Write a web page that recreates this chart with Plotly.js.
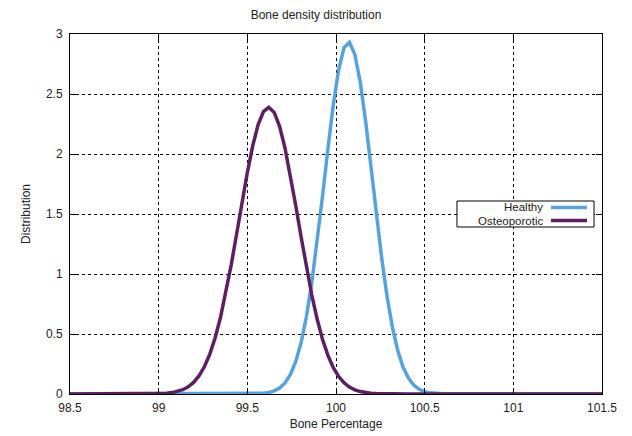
<!DOCTYPE html>
<html>
<head>
<meta charset="utf-8">
<script src="https://cdn.plot.ly/plotly-3.0.1.min.js"></script>
<style>html,body{margin:0;padding:0;background:#fff;}#chart{width:632px;height:436px;}</style>
</head>
<body>
<div id="chart"></div>
<script>
// Sample positions (Bone Percentage)
var bonePct = [98.5,
  98.9242, 98.9545, 98.9848, 99.0152, 99.0455, 99.0758, 99.1061, 99.1364, 99.1667, 99.1970,
  99.2273, 99.2576, 99.2879, 99.3182, 99.3485, 99.3788, 99.4091, 99.4394, 99.4697, 99.5000,
  99.5303, 99.5606, 99.5909, 99.6212, 99.6515, 99.6818, 99.7121, 99.7424, 99.7727, 99.8030,
  99.8333, 99.8636, 99.8939, 99.9242, 99.9545, 99.9848, 100.0152, 100.0455, 100.0758, 100.1061,
  100.1364, 100.1667, 100.1970, 100.2273, 100.2576, 100.2879, 100.3182, 100.3485, 100.3788, 100.4091,
  100.4394, 100.4697, 100.5000, 100.5303, 100.5606, 100.5909, 100.6212,
  101.5];

var healthy = [0,
  0, 0, 0, 0, 0, 0, 0, 0, 0, 0,
  0, 0, 0, 0, 0, 0, 0, 0, 0, 0,
  0.0011, 0.0026, 0.0059, 0.0127, 0.0258, 0.0499, 0.0920, 0.1612, 0.2689, 0.4269,
  0.6450, 0.9272, 1.2684, 1.6509, 2.0449, 2.4104, 2.7043, 2.8858, 2.9303, 2.8315,
  2.6034, 2.2780, 1.8965, 1.5025, 1.1327, 0.8126, 0.5548, 0.3603, 0.2227, 0.1310,
  0.0733, 0.0391, 0.0198, 0.0095, 0.0044, 0.0019, 0.0008,
  0];

var osteoporotic = [0,
  0.0004, 0.0009, 0.0017, 0.0034, 0.0064, 0.0118, 0.0210, 0.0361, 0.0600, 0.0966,
  0.1505, 0.2268, 0.3307, 0.4667, 0.6373, 0.8418, 1.0762, 1.3311, 1.5934, 1.8454,
  2.0680, 2.2425, 2.3529, 2.3889, 2.3468, 2.2308, 2.0519, 1.8263, 1.5727, 1.3106,
  1.0567, 0.8244, 0.6224, 0.4547, 0.3214, 0.2198, 0.1453, 0.0930, 0.0576, 0.0345,
  0.0200, 0.0113, 0.0061, 0.0032, 0.0016, 0.0008, 0.0004, 0, 0, 0,
  0, 0, 0, 0, 0, 0, 0,
  0];

var seriesNames = ['Healthy', 'Osteoporotic'];
var seriesColors = ['#56a3dc', '#5c1f61'];
var xTicks = [98.5, 99, 99.5, 100, 100.5, 101, 101.5];
var xTickText = ['98.5', '99', '99.5', '100', '100.5', '101', '101.5'];
var yTicks = [0, 0.5, 1, 1.5, 2, 2.5, 3];
var yTickText = ['0', '0.5', '1', '1.5', '2', '2.5', '3'];

var font = {family: 'Liberation Sans, Arial, sans-serif', size: 12, color: '#222'};
var keyFont = {family: font.family, size: 11.5, color: '#222'};

var traces = [
  {x: bonePct, y: healthy, name: seriesNames[0], type: 'scatter', mode: 'lines',
   line: {color: seriesColors[0], width: 3.5}, cliponaxis: false},
  {x: bonePct, y: osteoporotic, name: seriesNames[1], type: 'scatter', mode: 'lines',
   line: {color: seriesColors[1], width: 3.5}, cliponaxis: false}
];

// custom gnuplot-style key (text right-aligned, line sample on the right)
var keyL = 0.7274, keyR = 0.985, keyT = 0.5361, keyB = 0.4639;
var rowY = [0.5181, 0.4819];
var shapes = [
  {type: 'rect', xref: 'paper', yref: 'paper', x0: keyL, x1: keyR, y0: keyB, y1: keyT,
   line: {color: '#000', width: 1}, fillcolor: '#fff', layer: 'above'}
];
var annotations = [];
for (var i = 0; i < seriesNames.length; i++) {
  shapes.push({type: 'line', xref: 'paper', yref: 'paper', x0: 0.9041, x1: 0.9718,
    y0: rowY[i], y1: rowY[i], line: {color: seriesColors[i], width: 3.5}, layer: 'above'});
  annotations.push({xref: 'paper', yref: 'paper', x: 0.891, y: rowY[i], text: seriesNames[i],
    showarrow: false, xanchor: 'right', yanchor: 'middle', borderpad: 0, font: keyFont});
}

var layout = {
  width: 632, height: 436,
  margin: {l: 70, r: 30, t: 34, b: 42},
  paper_bgcolor: '#fff', plot_bgcolor: '#fff',
  font: font,
  showlegend: false,
  title: {text: 'Bone density distribution', font: {family: font.family, size: 12, color: '#222'},
          x: 0.5, xanchor: 'center', y: 0.966, yanchor: 'middle'},
  xaxis: {
    range: [98.5, 101.5], tickmode: 'array', tickvals: xTicks, ticktext: xTickText,
    showgrid: true, gridcolor: '#000', griddash: 'dot', gridwidth: 1,
    showline: true, linecolor: '#000', linewidth: 1, mirror: 'ticks',
    ticks: 'inside', ticklen: 6, tickcolor: '#000', zeroline: false,
    ticklabelstandoff: 3,
    title: {text: 'Bone Percentage', font: font, standoff: 5}
  },
  yaxis: {
    range: [0, 3], tickmode: 'array', tickvals: yTicks, ticktext: yTickText,
    showgrid: true, gridcolor: '#000', griddash: 'dot', gridwidth: 1,
    showline: true, linecolor: '#000', linewidth: 1, mirror: 'ticks',
    ticks: 'inside', ticklen: 6, tickcolor: '#000', zeroline: false,
    ticklabelstandoff: 4,
    title: {text: 'Distribution', font: font, standoff: 12}
  },
  shapes: shapes,
  annotations: annotations
};

Plotly.newPlot('chart', traces, layout, {displayModeBar: false, staticPlot: true});
</script>
</body>
</html>
